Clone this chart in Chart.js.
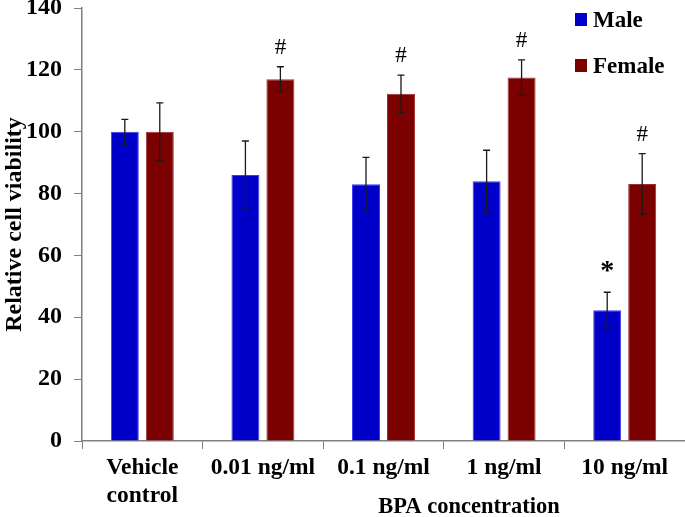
<!DOCTYPE html>
<html lang="en">
<head>
    <meta charset="UTF-8">
    <script src="https://cdn.jsdelivr.net/npm/chart.js"></script>
    <title>BPA cell viability</title>
    <style>
      body { margin: 0; background: #fff; }
    </style>
</head>
<body>
    <canvas id="viabilityChart" width="685" height="517"></canvas>

    <script>
      // data
      const categories = [['Vehicle', 'control'], '0.01 ng/ml', '0.1 ng/ml', '1 ng/ml', '10 ng/ml'];
      const maleValues = [100, 86, 83, 84, 42.3];
      const maleErrors = [4, 11, 8.7, 10, 5.8];
      const femaleValues = [100, 117, 112.3, 117.5, 83.1];
      const femaleErrors = [9.3, 4, 6, 5.7, 9.8];
      const maleMarks = ['', '', '', '', '*'];
      const femaleMarks = ['', '#', '#', '#', '#'];
      const yTicks = [0, 20, 40, 60, 80, 100, 120, 140];

      const serif = 'Liberation Serif, Times New Roman, serif';
      const axisGrey = '#808080';

      // error bars + significance marks, drawn from the bar elements
      const errorBars = {
        id: 'errorBars',
        afterDatasetsDraw(chart) {
          const ctx = chart.ctx;
          const y = chart.scales.y;
          const sets = [[maleErrors, maleMarks], [femaleErrors, femaleMarks]];
          ctx.save();
          sets.forEach(([errs, marks], di) => {
            const meta = chart.getDatasetMeta(di);
            const vals = chart.data.datasets[di].data;
            meta.data.forEach((bar, i) => {
              const top = y.getPixelForValue(vals[i] + errs[i]);
              const bot = y.getPixelForValue(vals[i] - errs[i]);
              ctx.strokeStyle = '#1a1a1a';
              ctx.lineWidth = 1.3;
              ctx.beginPath();
              ctx.moveTo(bar.x, top); ctx.lineTo(bar.x, bot);
              ctx.moveTo(bar.x - 3.5, top); ctx.lineTo(bar.x + 3.5, top);
              ctx.moveTo(bar.x - 3.5, bot); ctx.lineTo(bar.x + 3.5, bot);
              ctx.stroke();
              if (marks[i]) {
                ctx.fillStyle = '#000';
                ctx.textAlign = 'center';
                ctx.textBaseline = 'middle';
                ctx.font = marks[i] === '*' ? 'bold 28px ' + serif : '23px ' + serif;
                ctx.fillText(marks[i], bar.x, top - (marks[i] === '*' ? 20 : 19));
              }
            });
          });
          ctx.restore();
        }
      };

      // legend in the top right and the x title
      const extras = {
        id: 'extras',
        afterDraw(chart) {
          const ctx = chart.ctx;
          ctx.save();
          chart.data.datasets.forEach((ds, i) => {
            const cy = 20 + i * 46;
            ctx.fillStyle = ds.backgroundColor;
            ctx.fillRect(575, cy - 7, 12, 13);
            ctx.fillStyle = '#000';
            ctx.font = 'bold 23px ' + serif;
            ctx.textAlign = 'left';
            ctx.textBaseline = 'middle';
            ctx.fillText(ds.label, 593, cy + 1);
          });
          ctx.font = 'bold 22.5px ' + serif;
          ctx.textAlign = 'center';
          ctx.fillText('BPA concentration', 469, 507);
          ctx.restore();
        }
      };

      const ctx = document.getElementById('viabilityChart').getContext('2d');
      new Chart(ctx, {
        type: 'bar',
        data: {
          labels: categories,
          datasets: [{
            label: 'Male',
            data: maleValues,
            backgroundColor: '#0000C8',
            borderColor: '#3c3cf0',
            borderWidth: 1
          }, {
            label: 'Female',
            data: femaleValues,
            backgroundColor: '#7B0000',
            borderColor: '#a03030',
            borderWidth: 1
          }]
        },
        options: {
          responsive: false,
          animation: false,
          categoryPercentage: 0.58,
          barPercentage: 0.8,
          layout: { padding: { top: 8, right: 0, left: 0, bottom: 0 } },
          plugins: {
            legend: { display: false },
            tooltip: { enabled: false }
          },
          scales: {
            x: {
              grid: { drawOnChartArea: false, tickLength: 8, color: axisGrey, offset: true },
              border: { color: axisGrey, width: 1.5 },
              ticks: {
                color: '#000',
                font: { family: serif, size: 23.5, weight: 'bold', lineHeight: 1.2 },
                maxRotation: 0,
                autoSkip: false,
                padding: 5
              },
              afterFit(scale) { scale.height = 76; }
            },
            y: {
              min: 0,
              max: 140,
              afterBuildTicks(scale) { scale.ticks = yTicks.map(v => ({ value: v })); },
              grid: { drawOnChartArea: false, tickLength: 8, color: axisGrey },
              border: { color: axisGrey, width: 1.5 },
              ticks: {
                color: '#000',
                font: { family: serif, size: 24, weight: 'bold' },
                padding: 12
              },
              title: {
                display: true,
                text: 'Relative cell viability',
                color: '#000',
                font: { family: serif, size: 24, weight: 'bold' },
                padding: { top: 0, bottom: 0 }
              },
              afterFit(scale) {
                scale.width = 82;
                scale.paddingTop = 0;
                scale.paddingBottom = 0;
              }
            }
          }
        },
        plugins: [errorBars, extras]
      });
    </script>
</body>
</html>
